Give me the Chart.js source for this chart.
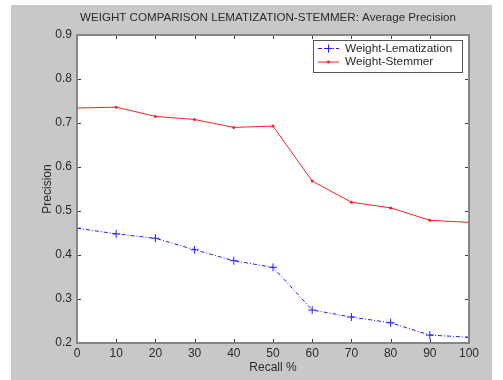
<!DOCTYPE html>
<html>
<head>
<meta charset="utf-8">
<script src="https://cdn.jsdelivr.net/npm/chart.js@4"></script>
<style>
  html, body { margin: 0; padding: 0; background: #fff; }
  #wrap { width: 503px; height: 380px; }
</style>
</head>
<body>
<div id="wrap"><canvas id="line-chart" width="503" height="380"></canvas></div>
<script>
// valores
var recall = [0, 10, 20, 30, 40, 50, 60, 70, 80, 90, 100];
var lematization = [0.461, 0.448, 0.438, 0.412, 0.387, 0.372, 0.275, 0.259, 0.246, 0.218, 0.213];
var stemmer = [0.734, 0.736, 0.715, 0.708, 0.690, 0.693, 0.568, 0.520, 0.507, 0.479, 0.474];
var yTicks = [0.2, 0.3, 0.4, 0.5, 0.6, 0.7, 0.8, 0.9];
var titulo = "WEIGHT COMPARISON LEMATIZATION-STEMMER: Average Precision";
var FONT = "'Liberation Sans', Arial, sans-serif";

function pares(xs, ys) {
  return xs.map(function (x, i) { return { x: x, y: ys[i] }; });
}

// fondo gris, caja de ejes, ticks interiores, titulo y leyenda estilo matlab
var estiloMatlab = {
  id: 'estiloMatlab',
  beforeDraw: function (chart) {
    var c = chart.ctx;
    c.save();
    c.fillStyle = '#ffffff';
    c.fillRect(0, 0, chart.width, chart.height);
    c.fillStyle = '#c8c8c8';
    c.fillRect(11, 5, 481, chart.height - 5);
    var a = chart.chartArea;
    c.fillStyle = '#ffffff';
    c.fillRect(a.left, a.top, a.right - a.left, a.bottom - a.top);
    c.restore();
  },
  afterDatasetsDraw: function (chart) {
    var c = chart.ctx;
    var a = chart.chartArea;
    var xs = chart.scales.x, ys = chart.scales.y;
    c.save();
    c.strokeStyle = '#3a3a3a';
    c.lineWidth = 1;
    c.beginPath();
    recall.forEach(function (v) {
      var px = Math.round(xs.getPixelForValue(v)) + 0.5;
      c.moveTo(px, a.bottom); c.lineTo(px, a.bottom - 4);
      c.moveTo(px, a.top); c.lineTo(px, a.top + 4);
    });
    yTicks.forEach(function (v) {
      var py = Math.round(ys.getPixelForValue(v)) + 0.5;
      c.moveTo(a.left, py); c.lineTo(a.left + 4, py);
      c.moveTo(a.right, py); c.lineTo(a.right - 4, py);
    });
    c.stroke();
    c.strokeStyle = '#858585';
    c.lineWidth = 2;
    c.strokeRect(a.left, a.top, a.right - a.left, a.bottom - a.top);

    // titulo
    c.fillStyle = '#2a2a2a';
    c.font = '11.6px ' + FONT;
    c.textAlign = 'center';
    c.textBaseline = 'middle';
    c.fillText(titulo, (a.left + a.right) / 2 - 5, 18);

    // leyenda
    var bx = a.right - 156, by = a.top + 5, bw = 149, bh = 32;
    c.fillStyle = '#ffffff';
    c.fillRect(bx, by, bw, bh);
    c.strokeStyle = '#555555';
    c.lineWidth = 1;
    c.strokeRect(bx + 0.5, by + 0.5, bw, bh);
    c.font = '11.8px ' + FONT;
    chart.data.datasets.forEach(function (ds, i) {
      var ly = by + 8.5 + i * 13.5;
      c.strokeStyle = ds.borderColor;
      c.lineWidth = 1;
      c.setLineDash(ds.borderDash || []);
      c.beginPath();
      c.moveTo(bx + 5, ly); c.lineTo(bx + 26, ly);
      c.stroke();
      c.setLineDash([]);
      var mx = bx + 15.5;
      if (ds.pointStyle === 'cross') {
        c.beginPath();
        c.moveTo(mx - 4, ly); c.lineTo(mx + 4, ly);
        c.moveTo(mx, ly - 4); c.lineTo(mx, ly + 4);
        c.stroke();
      } else {
        c.fillStyle = ds.borderColor;
        c.beginPath(); c.arc(mx, ly, 1.5, 0, Math.PI * 2); c.fill();
      }
      c.fillStyle = '#2a2a2a';
      c.textAlign = 'left';
      c.fillText(ds.label, bx + 32, ly);
    });
    c.restore();
  }
};

var dataPlot = new Chart(document.getElementById('line-chart'), {
  type: 'line',
  data: {
    datasets: [{
      label: 'Weight-Lematization',
      data: pares(recall, lematization),
      borderColor: '#2020ff',
      backgroundColor: '#2020ff',
      borderWidth: 1,
      borderDash: [4, 2, 1, 2],
      pointStyle: 'cross',
      pointRadius: 4,
      pointBorderWidth: 1,
      fill: false
    }, {
      label: 'Weight-Stemmer',
      data: pares(recall, stemmer),
      borderColor: '#ff2020',
      backgroundColor: '#ff2020',
      borderWidth: 1,
      pointStyle: 'circle',
      pointRadius: 1.5,
      pointBorderWidth: 0,
      fill: false
    }]
  },
  options: {
    responsive: false,
    animation: false,
    layout: { padding: { top: 35, right: 34, left: 0, bottom: 0 } },
    plugins: {
      legend: { display: false },
      title: { display: false },
      tooltip: { enabled: false }
    },
    scales: {
      x: {
        type: 'linear',
        min: 0, max: 100,
        grid: { display: false, drawTicks: false, tickLength: 0 },
        border: { display: false },
        ticks: { stepSize: 10, color: '#2a2a2a', padding: 3, maxRotation: 0, font: { family: FONT, size: 12 } },
        title: { display: true, text: 'Recall %', color: '#2a2a2a', padding: { top: 0, bottom: 5 }, font: { family: FONT, size: 12 } },
        afterFit: function (s) { s.height = 37; }
      },
      y: {
        min: 0.2, max: 0.9,
        grid: { display: false, drawTicks: false, tickLength: 0 },
        border: { display: false },
        ticks: {
          stepSize: 0.1, color: '#2a2a2a', padding: 5, font: { family: FONT, size: 12 },
          callback: function (v) { return v.toFixed(1); }
        },
        title: { display: true, text: 'Precision', color: '#2a2a2a', padding: { top: 40, bottom: 0 }, font: { family: FONT, size: 12 } },
        afterFit: function (s) { s.width = 77; }
      }
    }
  },
  plugins: [estiloMatlab]
});
</script>
</body>
</html>
